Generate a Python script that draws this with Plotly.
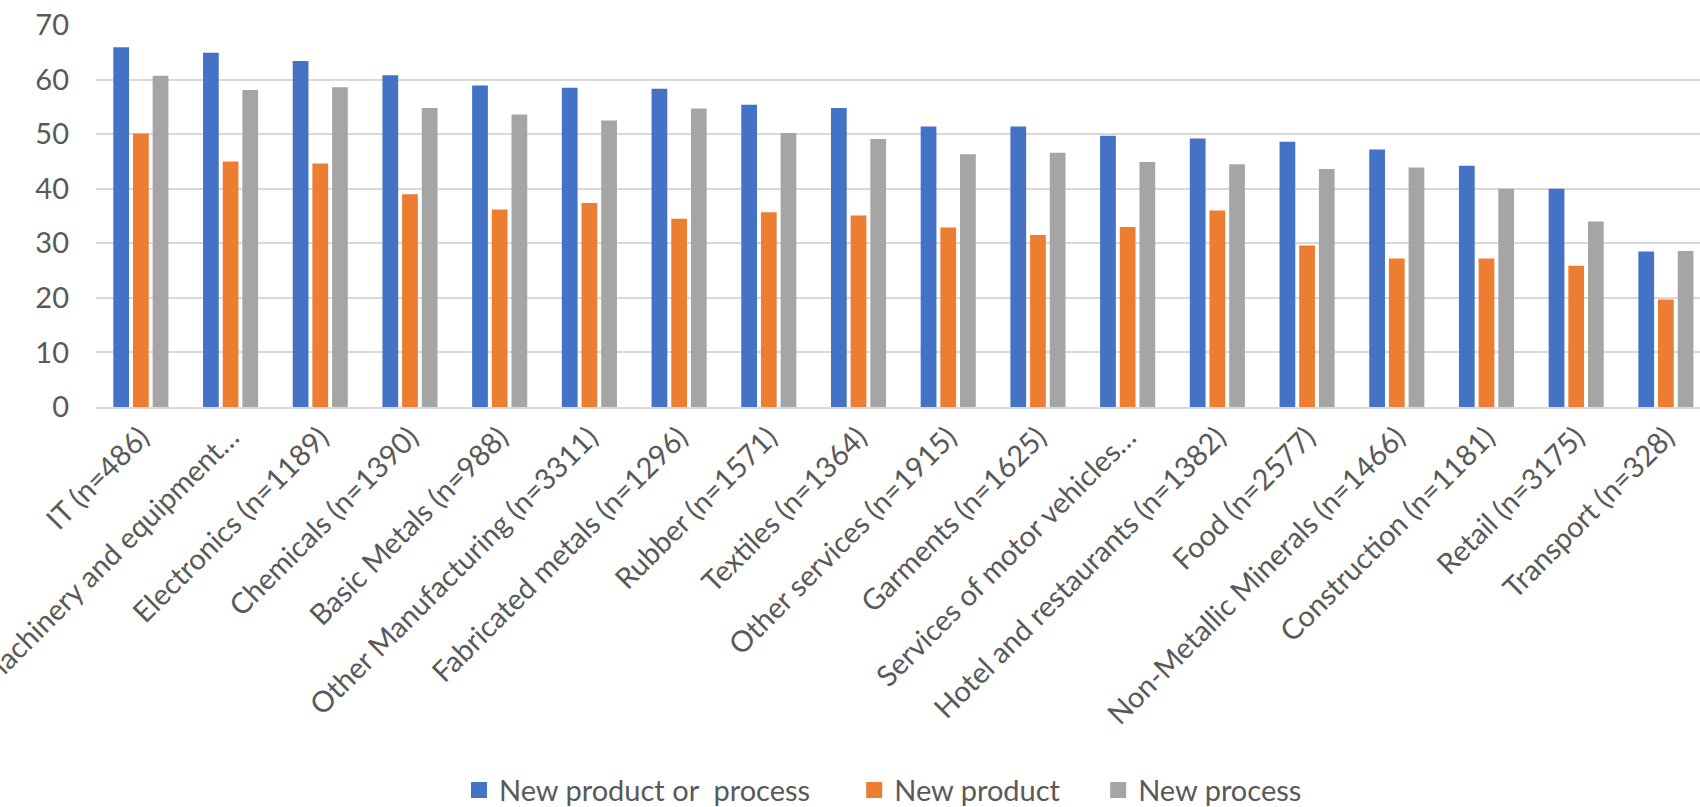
import plotly.graph_objects as go

# Sector categories (sample sizes in brackets)
categories = [
    "IT (n=486)",
    "Machinery and equipment…",
    "Electronics (n=1189)",
    "Chemicals (n=1390)",
    "Basic Metals (n=988)",
    "Other Manufacturing (n=3311)",
    "Fabricated metals (n=1296)",
    "Rubber (n=1571)",
    "Textiles (n=1364)",
    "Other services (n=1915)",
    "Garments (n=1625)",
    "Services of motor vehicles…",
    "Hotel and restaurants (n=1382)",
    "Food (n=2577)",
    "Non-Metallic Minerals (n=1466)",
    "Construction (n=1181)",
    "Retail (n=3175)",
    "Transport (n=328)",
]

# Share of firms (%) reporting each type of innovation
new_product_or_process = [65.9, 64.9, 63.4, 60.8, 58.9, 58.5, 58.3, 55.4, 54.8,
                          51.4, 51.4, 49.7, 49.2, 48.6, 47.2, 44.2, 40.0, 28.5]
new_product = [50.1, 45.0, 44.6, 39.0, 36.2, 37.4, 34.5, 35.7, 35.1,
               32.9, 31.5, 33.0, 36.0, 29.6, 27.2, 27.2, 25.9, 19.7]
new_process = [60.7, 58.1, 58.6, 54.8, 53.6, 52.5, 54.7, 50.2, 49.1,
               46.3, 46.6, 44.9, 44.5, 43.6, 43.9, 40.0, 34.0, 28.6]

series_names = ["New product or  process", "New product", "New process"]
series_values = [new_product_or_process, new_product, new_process]
colors = ["#4472C4", "#ED7D31", "#A5A5A5"]
legend_ids = ["legend", "legend2", "legend3"]
legend_x = [0.2263, 0.4727, 0.6248]

FONT = "Lato"
TEXT_COLOR = "#595959"
GRID = "#D9D9D9"

fig = go.Figure()

for name, vals, col in zip(series_names, series_values, colors):
    fig.add_trace(go.Bar(
        x=categories, y=vals, name=name,
        marker=dict(color=col, line=dict(width=0)),
        showlegend=False,
    ))

# Legend entries with larger square swatches, one legend per entry
for name, col, lid in zip(series_names, colors, legend_ids):
    fig.add_trace(go.Scatter(
        x=[None], y=[None], mode="markers", name=name,
        marker=dict(symbol="square", size=16, color=col),
        legend=lid, showlegend=True,
    ))

legend_common = dict(
    orientation="h", xanchor="left", yanchor="middle", y=-1.003,
    font=dict(family=FONT, size=29, color=TEXT_COLOR),
    itemsizing="trace", bgcolor="rgba(0,0,0,0)", borderwidth=0,
)

fig.update_layout(
    width=1700, height=807,
    margin=dict(l=96, r=0, t=25, b=400, autoexpand=False),
    paper_bgcolor="white", plot_bgcolor="white",
    barmode="group", bargap=0.342, bargroupgap=0.2,
    font=dict(family=FONT, color=TEXT_COLOR),
    legend=dict(x=legend_x[0], **legend_common),
    legend2=dict(x=legend_x[1], **legend_common),
    legend3=dict(x=legend_x[2], **legend_common),
    xaxis=dict(
        type="category", range=[-0.5, 17.38],
        tickangle=-45, tickfont=dict(family=FONT, size=29, color=TEXT_COLOR),
        showgrid=False, showline=True, linecolor=GRID, linewidth=1.5,
        ticks="", automargin=False,
    ),
    yaxis=dict(
        range=[0, 70], dtick=10, showgrid=True, gridcolor=GRID, gridwidth=1.5,
        zeroline=False, showline=False, ticks="",
        tickfont=dict(family=FONT, size=29, color=TEXT_COLOR),
        ticklabelstandoff=26, automargin=False,
    ),
)

fig.write_html("out.html")
